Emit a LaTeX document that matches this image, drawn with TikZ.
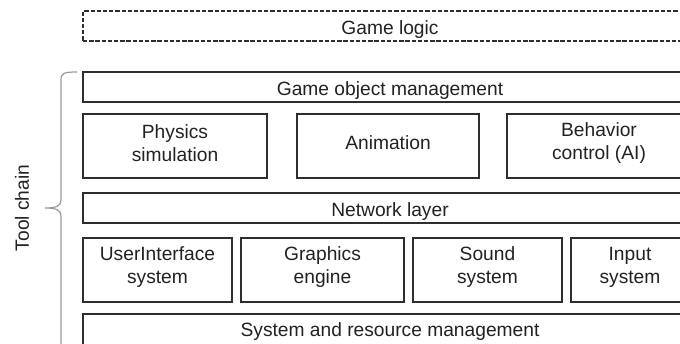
\documentclass[tikz,border=0pt]{standalone}
\usepackage{fontspec}
\setmainfont{Liberation Sans}
\definecolor{boxline}{HTML}{2E2E2E}
\definecolor{textcol}{HTML}{222222}
\definecolor{bracecol}{HTML}{9A9A9A}
\tikzset{
  layer/.style={draw=boxline, line width=2.4pt, inner sep=0pt},
  dashlayer/.style={layer, dash pattern=on 4.3pt off 1.9pt},
  lbl/.style={inner sep=0pt, align=center, text=textcol,
    font=\fontsize{19.2}{23}\selectfont},
}
\begin{document}
\begin{tikzpicture}[x=1pt,y=-1pt]
\useasboundingbox (0,0) rectangle (680,343);
\clip (0,0) rectangle (680,343);
\fill[white] (0,0) rectangle (680,343);

% top-level game logic (dashed)
\node[dashlayer, minimum width=614pt, minimum height=30pt] (logic) at (390,26) {};
\node[lbl] (logicT) at ([yshift=-4pt]logic.center) {Game logic};

% engine layers
\node[layer, minimum width=614pt, minimum height=30pt] (gom) at (390,87) {};
\node[lbl] (gomT) at ([yshift=-4pt]gom.center) {Game object management};

\node[layer, minimum width=184pt, minimum height=64pt] (phys) at (175,146) {};
\node[lbl] (physT) at ([yshift=3pt]phys.center) {Physics\\simulation};
\node[layer, minimum width=182pt, minimum height=64pt] (anim) at (388,146) {};
\node[lbl] (animT) at ([yshift=3pt]anim.center) {Animation};
\node[layer, minimum width=184pt, minimum height=64pt] (behav) at (599,146) {};
\node[lbl] (behavT) at ([yshift=3pt]behav.center) {Behavior\\control (AI)};

\node[layer, minimum width=614pt, minimum height=30pt] (net) at (390,208) {};
\node[lbl] (netT) at ([yshift=-4pt]net.center) {Network layer};

\node[layer, minimum width=149pt, minimum height=64pt] (ui) at (157.5,270) {};
\node[lbl] (uiT) at ([yshift=3pt]ui.center) {UserInterface\\system};
\node[layer, minimum width=163pt, minimum height=64pt] (gfx) at (322.5,270) {};
\node[lbl] (gfxT) at ([yshift=3pt]gfx.center) {Graphics\\engine};
\node[layer, minimum width=149pt, minimum height=64pt] (snd) at (487.5,270) {};
\node[lbl] (sndT) at ([yshift=3pt]snd.center) {Sound\\system};
\node[layer, minimum width=118pt, minimum height=64pt] (inp) at (630,270) {};
\node[lbl] (inpT) at ([yshift=3pt]inp.center) {Input\\system};

\node[layer, minimum width=614pt, minimum height=34pt] (sys) at (390,331) {};
\node[lbl] (sysT) at (390,332) {System and resource management};

% tool chain brace
\coordinate (bt) at (77,72);
\coordinate (bm) at (45,208);
\coordinate (bb) at (61,360);
\draw[bracecol, line width=1.2pt]
  (bt) .. controls (64,72) and (61,73) .. (61,80) -- (61,200)
  .. controls (61,206) and (56,208) .. (bm)
  .. controls (56,208) and (61,210) .. (61,216) -- (bb);
\node[lbl, rotate=90] (tool) at (22,208) {Tool chain};
\end{tikzpicture}
\end{document}
